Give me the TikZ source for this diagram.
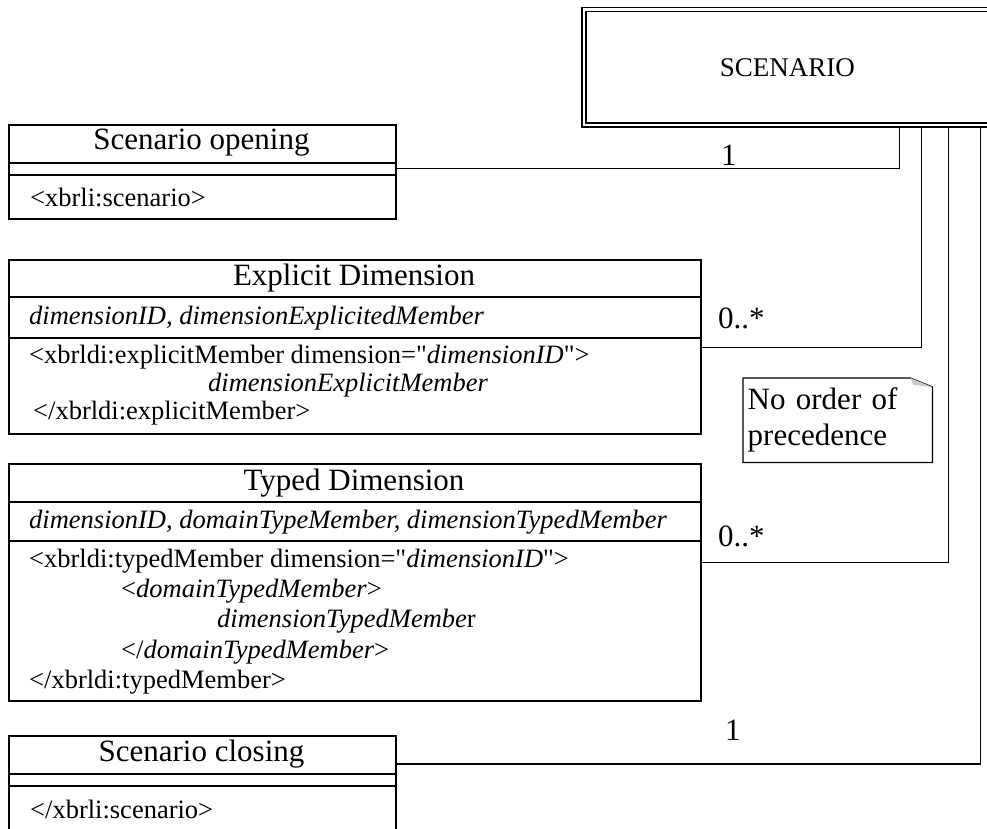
\documentclass[tikz,border=0pt]{standalone}
\usepackage{fontspec}
\setmainfont{Liberation Serif}
\usetikzlibrary{positioning}

\begin{document}
\begin{tikzpicture}[
        x=1pt,
        y=-1pt,
        classbox/.style={draw, line width=1.5pt, anchor=north west, inner sep=0pt},
        scenbox/.style={draw, double, double distance=2.5pt, line width=1.5pt, anchor=north west,
            font=\fontsize{27}{30}\selectfont},
        sepline/.style={line width=1.5pt},
        conn/.style={line width=1.3pt},
        title/.style={font=\fontsize{31}{34}\selectfont},
        body/.style={font=\fontsize{26.5}{30}\selectfont, anchor=west, inner sep=0pt},
        mult/.style={font=\fontsize{31}{34}\selectfont, anchor=west, inner sep=0pt},
        notebox/.style={anchor=north west, inner sep=4pt, align=left,
            font=\fontsize{31}{36}\selectfont}
    ]
        \useasboundingbox (0,0) rectangle (987,828);

        % The scenario element, cut by the right edge.
        \node[scenbox, minimum width=407pt, minimum height=115.5pt] (scen) at (583,8.75)
            {\raisebox{-4pt}{SCENARIO}};

        % Scenario opening
        \node[classbox, minimum width=387pt, minimum height=94pt] (open) at (8,124) {};
        \node[title] (openT) at (201.5,143) {Scenario opening};
        \draw[sepline] (8,163) -- (395,163);
        \draw[sepline] (8,175) -- (395,175);
        \node[body] (openB) at (30,197) {<xbrli:scenario>};

        % Explicit Dimension
        \node[classbox, minimum width=692pt, minimum height=174pt] (expl) at (8,259) {};
        \node[title] (explT) at (354,278) {Explicit Dimension};
        \draw[sepline] (8,297) -- (700,297);
        \draw[sepline] (8,338) -- (700,338);
        \node[body] (explA) at (29,318) {\textit{dimensionID, dimensionExplicitedMember}};
        \node[body] (explB1) at (29,357) {<xbrldi:explicitMember dimension=\textquotedbl\textit{dimensionID}\textquotedbl>};
        \node[body] (explB2) at (208,385) {\textit{dimensionExplicitMember}};
        \node[body] (explB3) at (33,413) {</xbrldi:explicitMember>};

        % Typed Dimension
        \node[classbox, minimum width=692pt, minimum height=237pt] (typed) at (8,463) {};
        \node[title] (typedT) at (354,483) {Typed Dimension};
        \draw[sepline] (8,502) -- (700,502);
        \draw[sepline] (8,541) -- (700,541);
        \node[body] (typedA) at (29,522) {\textit{dimensionID, domainTypeMember, dimensionTypedMember}};
        \node[body] (typedB1) at (29,561) {<xbrldi:typedMember dimension=\textquotedbl\textit{dimensionID}\textquotedbl>};
        \node[body] (typedB2) at (121,591) {<\textit{domainTypedMember}>};
        \node[body] (typedB3) at (217,621) {\textit{dimensionTypedMembe}r};
        \node[body] (typedB4) at (121,652) {</\textit{domainTypedMember}>};
        \node[body] (typedB5) at (29,682) {</xbrldi:typedMember>};

        % Scenario closing
        \node[classbox, minimum width=387pt, minimum height=120pt] (close) at (8,735) {};
        \node[title] (closeT) at (201.5,754) {Scenario closing};
        \draw[sepline] (8,774) -- (395,774);
        \draw[sepline] (8,786) -- (395,786);
        \node[body] (closeB) at (30,809) {</xbrli:scenario>};

        % Note
        \node[notebox, minimum width=189pt, minimum height=84pt, text width=180pt] (note) at (743,378)
            {No order of\\precedence};
        \draw[line width=1.3pt] (note.north west) -- ([xshift=-22pt]note.north east)
            -- ([yshift=-9pt]note.north east) -- (note.south east) -- (note.south west) -- cycle;
        \fill[gray!40] ([xshift=-22pt]note.north east) -- ([yshift=-9pt]note.north east)
            -- ([xshift=-19pt, yshift=-7pt]note.north east) -- cycle;

        % Associations
        \draw[conn] ([yshift=3pt]open.east) -| ([xshift=-92pt]scen.south east);
        \draw[conn] ([yshift=-1pt]expl.east) -| ([xshift=-70pt]scen.south east);
        \draw[line width=0.7pt] ([yshift=19.5pt]typed.east) -- ++(87,0) coordinate (typedK);
        \draw[conn] (typedK) -| ([xshift=-43pt]scen.south east);
        \draw[conn] ([yshift=-29pt]close.north east) -| ([xshift=-11pt]scen.south east);

        \node[mult] (m1) at (721,155) {1};
        \node[mult] (m2) at (718,318) {0..*};
        \node[mult] (m3) at (718,536) {0..*};
        \node[mult] (m4) at (725,730) {1};
    \end{tikzpicture}
\end{document}
